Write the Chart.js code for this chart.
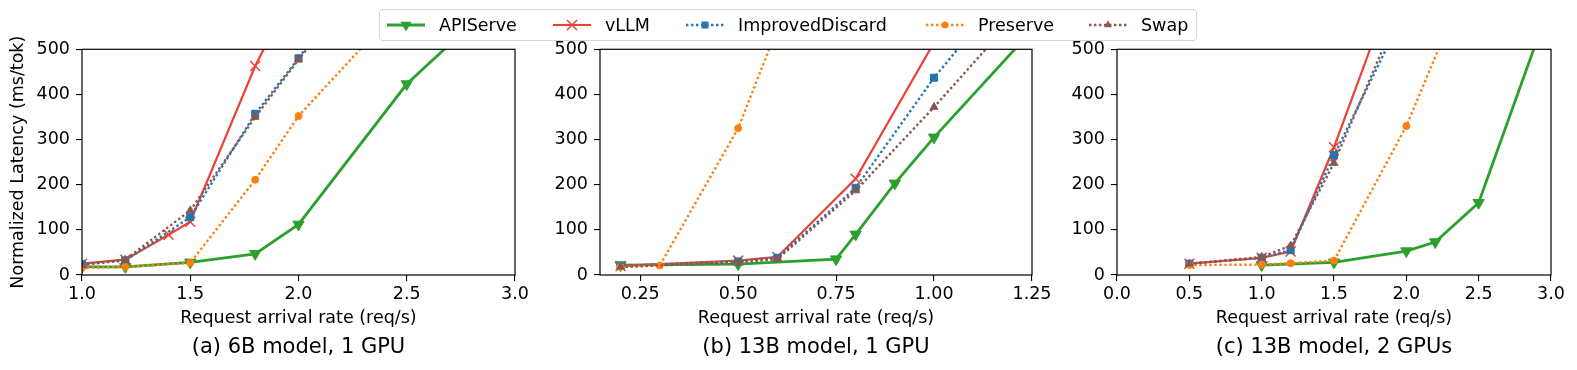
<!DOCTYPE html>
<html>
<head>
<meta charset="utf-8">
<script src="https://cdn.jsdelivr.net/npm/chart.js@4.4.1/dist/chart.umd.min.js"></script>
<style>
  body { margin: 0; background: #fff; width: 1577px; height: 370px; position: relative; overflow: hidden; font-family: 'DejaVu Sans'; }
  canvas { position: absolute; top: 0; }
  #legend { position: absolute; left: 379px; top: 9px; width: 816px; height: 30px; border: 1px solid #d4d4d4; border-radius: 4px; background: #fff; z-index: 2; }
  .item { position: absolute; top: 0; height: 30px; display: flex; align-items: center; font-size: 17.5px; color: #000; white-space: nowrap; }
  .item svg { margin-right: 14px; }
</style>
</head>
<body>
<div id="legend"></div>
<canvas id="ca" width="540" height="370" style="left:0px"></canvas>
<canvas id="cb" width="520" height="370" style="left:540px"></canvas>
<canvas id="cc" width="517" height="370" style="left:1060px"></canvas>
<script>
// series names, captions, tick values
const seriesNames = ['APIServe', 'vLLM', 'ImprovedDiscard', 'Preserve', 'Swap'];
const captions = ['(a) 6B model, 1 GPU', '(b) 13B model, 1 GPU', '(c) 13B model, 2 GPUs'];
const yTicks = [0, 100, 200, 300, 400, 500];
const xTicksA = [1.0, 1.5, 2.0, 2.5, 3.0];
const xTicksB = [0.25, 0.50, 0.75, 1.00, 1.25];
const xTicksC = [0.0, 0.5, 1.0, 1.5, 2.0, 2.5, 3.0];

// (a) 6B model, 1 GPU
const xA = [1.0, 1.2, 1.4, 1.5, 1.8, 2.0, 2.2, 2.5, 3.0];
const apiServeA = [18, 18, null, 28, 47, 112, null, 423, 645];
const vllmA = [25, 34, 89, 118, 463, 653, null, null, null];
const improvedA = [24, 32, null, 128, 357, 480, 613, null, null];
const preserveA = [16, 18, null, 27, 211, 352, null, 612, null];
const swapA = [22, 34, null, 143, 350, 477, 598, null, null];

// (b) 13B model, 1 GPU
const xB = [0.2, 0.3, 0.5, 0.6, 0.75, 0.8, 0.9, 1.0, 1.1, 1.2, 1.3];
const apiServeB = [22, null, 24, null, 35, 90, 203, 305, null, null, 589];
const vllmB = [20, null, 32, 40, null, 213, null, 515, null, null, null];
const improvedB = [20, null, 30, 38, null, 193, null, 437, 542, null, null];
const preserveB = [18, 21, 325, 546, null, null, null, null, null, null, null];
const swapB = [18, null, 28, 35, null, 187, null, 372, null, 566, null];

// (c) 13B model, 2 GPUs
const xC = [0.5, 1.0, 1.2, 1.5, 2.0, 2.2, 2.5, 3.0];
const apiServeC = [null, 22, null, 28, 53, 73, 160, 607];
const vllmC = [25, 38, 52, 283, 718, null, null, null];
const improvedC = [25, 38, 55, 265, 591, null, null, null];
const preserveC = [22, 23, 26, 32, 330, null, 713, null];
const swapC = [25, 40, 65, 248, 622, null, null, null];

const styles = [
  { color: '#2ca02c', width: 2.8, dash: [], point: 'triangle', rot: 180, r: 6.5, pbw: 1, order: 5 },
  { color: '#ea4236', width: 2.2, dash: [], point: 'crossRot', rot: 0, r: 7, pbw: 1.5, order: 4 },
  { color: '#1f77b4', width: 2.4, dash: [2.4, 2.6], point: 'rect', rot: 0, r: 5, pbw: 1, order: 3 },
  { color: '#ff7f0e', width: 2.4, dash: [2.4, 2.6], point: 'circle', rot: 0, r: 3.5, pbw: 1, order: 2 },
  { color: '#8c564b', width: 2.4, dash: [2.4, 2.6], point: 'triangle', rot: 0, r: 4.5, pbw: 1, order: 1 }
];

Chart.defaults.font.family = 'DejaVu Sans';
Chart.defaults.color = '#000';

// legend (html, spans all three panels)
const legendLeft = [7, 173, 306, 546, 709];
function legendIcon(s) {
  const c = s.color;
  let line = '<line x1="0" y1="15" x2="38" y2="15" stroke="' + c + '" stroke-width="' + s.width + '"' +
    (s.dash.length ? ' stroke-dasharray="' + s.dash.join(' ') + '"' : '') + '/>';
  let mk = '';
  if (s.point === 'triangle' && s.rot === 180) {
    mk = '<polygon points="13.4,11.7 24.6,11.7 19,21.5" fill="' + c + '"/>';
  } else if (s.point === 'triangle') {
    mk = '<polygon points="19,10.5 22.9,17.2 15.1,17.2" fill="' + c + '"/>';
  } else if (s.point === 'crossRot') {
    mk = '<path d="M14 10 L24 20 M24 10 L14 20" stroke="' + c + '" stroke-width="1.5"/>';
  } else if (s.point === 'rect') {
    mk = '<rect x="15.5" y="11.5" width="7" height="7" fill="' + c + '"/>';
  } else {
    mk = '<circle cx="19" cy="15" r="3.5" fill="' + c + '"/>';
  }
  return '<svg width="38" height="30">' + line + mk + '</svg>';
}
const legendEl = document.getElementById('legend');
seriesNames.forEach((name, i) => {
  const d = document.createElement('div');
  d.className = 'item';
  d.style.left = legendLeft[i] + 'px';
  d.innerHTML = legendIcon(styles[i]) + '<span>' + name + '</span>';
  legendEl.appendChild(d);
});

// box around the plot area, like matplotlib spines
const framePlugin = {
  id: 'frame',
  afterDatasetsDraw(chart) {
    const a = chart.chartArea;
    const ctx = chart.ctx;
    ctx.save();
    ctx.strokeStyle = '#000';
    ctx.lineWidth = 1.2;
    ctx.strokeRect(a.left, a.top, a.right - a.left, a.bottom - a.top);
    ctx.restore();
  }
};

function buildDatasets(xs, seriesList) {
  return seriesList.map((ys, i) => {
    const s = styles[i];
    const pts = [];
    xs.forEach((x, j) => { if (ys[j] !== null) pts.push({ x: x, y: ys[j] }); });
    return {
      label: seriesNames[i],
      data: pts,
      borderColor: s.color,
      backgroundColor: s.color,
      borderWidth: s.width,
      borderDash: s.dash,
      pointStyle: s.point,
      pointRotation: s.rot,
      pointRadius: s.r,
      pointBorderWidth: s.pbw,
      pointBorderColor: s.color,
      pointBackgroundColor: s.color,
      tension: 0,
      clip: 0,
      order: s.order
    };
  });
}

function makePanel(id, xs, seriesList, xMin, xMax, xTicks, decimals, caption, yTitle, padLeft, padRight, yWidth) {
  const ctx = document.getElementById(id).getContext('2d');
  return new Chart(ctx, {
    type: 'line',
    data: { datasets: buildDatasets(xs, seriesList) },
    options: {
      responsive: false,
      animation: false,
      events: [],
      layout: { padding: { top: 49.3, bottom: 9.7, left: padLeft, right: padRight } },
      scales: {
        x: {
          type: 'linear',
          min: xMin,
          max: xMax,
          afterBuildTicks: (sc) => { sc.ticks = xTicks.map(v => ({ value: v })); },
          afterFit: (sc) => { sc.height = 54.2; },
          ticks: {
            autoSkip: false, maxRotation: 0, padding: 2.5,
            font: { size: 17.5 },
            callback: (v) => Number(v).toFixed(decimals)
          },
          grid: { drawOnChartArea: false, drawTicks: true, tickLength: 6, color: '#000', lineWidth: 1.1 },
          border: { display: false },
          title: { display: true, text: 'Request arrival rate (req/s)', font: { size: 17.5 }, padding: 0 }
        },
        y: {
          min: 0,
          max: 500,
          afterBuildTicks: (sc) => { sc.ticks = yTicks.map(v => ({ value: v })); },
          afterFit: (sc) => { sc.width = yWidth; },
          ticks: { padding: 6, font: { size: 17.5 } },
          grid: { drawOnChartArea: false, drawTicks: true, tickLength: 6, color: '#000', lineWidth: 1.1 },
          border: { display: false },
          title: { display: yTitle, text: 'Normalized Latency (ms/tok)', font: { size: 17.5 }, padding: 0 }
        }
      },
      plugins: {
        legend: { display: false },
        tooltip: { enabled: false },
        title: {
          display: true,
          position: 'bottom',
          fullSize: false,
          text: caption,
          font: { size: 21, weight: 'normal' },
          color: '#000',
          padding: { top: 5.9, bottom: 0 }
        }
      }
    },
    plugins: [framePlugin]
  });
}

makePanel('ca', xA, [apiServeA, vllmA, improvedA, preserveA, swapA], 1.0, 3.0, xTicksA, 1, captions[0], true, 8, 25, 74);
makePanel('cb', xB, [apiServeB, vllmB, improvedB, preserveB, swapB], 0.1475, 1.25, xTicksB, 2, captions[1], false, 0, 28, 60);
makePanel('cc', xC, [apiServeC, vllmC, improvedC, preserveC, swapC], 0.0, 3.0, xTicksC, 1, captions[2], false, 0, 26, 57);
</script>
</body>
</html>
